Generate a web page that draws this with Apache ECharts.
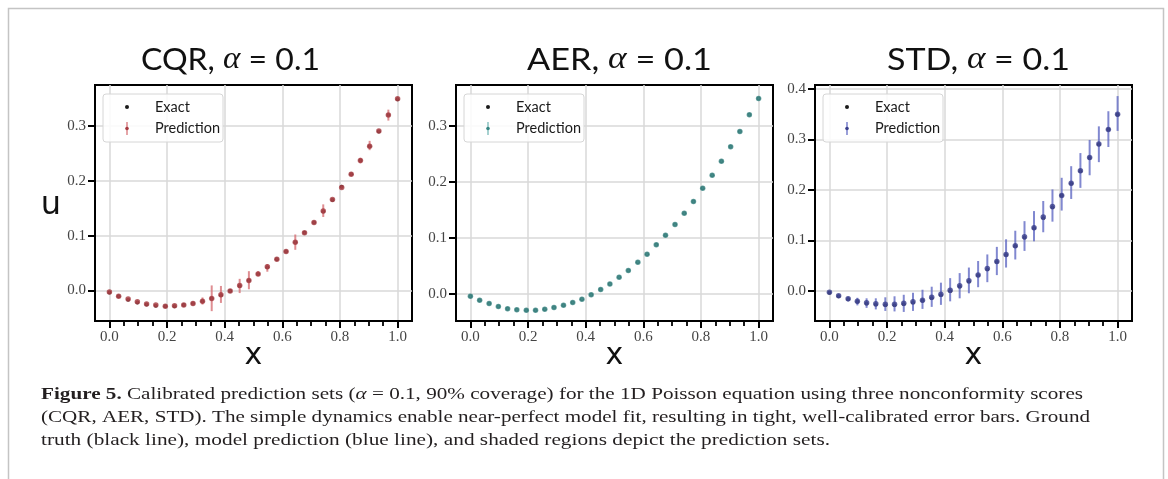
<!DOCTYPE html>
<html>
<head>
<meta charset="utf-8">
<script src="https://cdn.jsdelivr.net/npm/echarts@6/dist/echarts.min.js"></script>
<style>
  html, body { margin: 0; padding: 0; background: #ffffff; }
  #chart { width: 1168px; height: 479px; }
</style>
</head>
<body>
<div id="chart"></div>
<script>
// Collocation points on [0, 1]
const xs = [0.000, 0.032, 0.065, 0.097, 0.129, 0.161, 0.194, 0.226, 0.258, 0.290, 0.323, 0.355,
            0.387, 0.419, 0.452, 0.484, 0.516, 0.548, 0.581, 0.613, 0.645, 0.677, 0.710, 0.742,
            0.774, 0.806, 0.839, 0.871, 0.903, 0.935, 0.968, 1.000];

// Ground-truth solution u(x)
const exact = [-0.004, -0.011, -0.017, -0.022, -0.026, -0.028, -0.029, -0.029, -0.027, -0.024, -0.020, -0.015,
               -0.009, -0.001, 0.008, 0.018, 0.030, 0.042, 0.057, 0.071, 0.088, 0.105, 0.124, 0.144,
               0.165, 0.189, 0.212, 0.237, 0.263, 0.290, 0.320, 0.349];

// CQR prediction and interval bounds
const cqrPred = [-0.003, -0.011, -0.016, -0.021, -0.025, -0.027, -0.029, -0.028, -0.027, -0.024, -0.020, -0.015,
                 -0.008, -0.001, 0.009, 0.018, 0.030, 0.043, 0.057, 0.071, 0.088, 0.105, 0.124, 0.145,
                 0.166, 0.188, 0.212, 0.237, 0.263, 0.291, 0.320, 0.350];
const cqrLow = [-0.005, -0.013, -0.018, -0.023, -0.027, -0.029, -0.031, -0.030, -0.029, -0.027, -0.026, -0.038,
                -0.023, -0.003, -0.005, 0.002, 0.026, 0.034, 0.055, 0.069, 0.074, 0.103, 0.122, 0.134,
                0.164, 0.186, 0.209, 0.232, 0.256, 0.289, 0.310, 0.348];
const cqrHigh = [-0.001, -0.009, -0.014, -0.019, -0.023, -0.025, -0.027, -0.026, -0.025, -0.021, -0.013, 0.009,
                 0.008, 0.001, 0.021, 0.035, 0.035, 0.048, 0.059, 0.073, 0.102, 0.107, 0.126, 0.157,
                 0.168, 0.190, 0.215, 0.242, 0.273, 0.293, 0.330, 0.352];

// AER prediction and interval bounds
const aerPred = [-0.004, -0.011, -0.017, -0.022, -0.026, -0.028, -0.029, -0.029, -0.027, -0.024, -0.020, -0.015,
                 -0.009, -0.001, 0.008, 0.018, 0.030, 0.042, 0.057, 0.071, 0.088, 0.105, 0.124, 0.144,
                 0.165, 0.189, 0.212, 0.237, 0.263, 0.290, 0.320, 0.349];
const aerLow = [-0.006, -0.013, -0.019, -0.024, -0.028, -0.030, -0.031, -0.031, -0.029, -0.026, -0.022, -0.017,
                -0.011, -0.003, 0.006, 0.016, 0.028, 0.040, 0.055, 0.069, 0.086, 0.103, 0.122, 0.142,
                0.163, 0.187, 0.210, 0.235, 0.261, 0.288, 0.318, 0.347];
const aerHigh = [-0.002, -0.009, -0.015, -0.020, -0.024, -0.026, -0.027, -0.027, -0.025, -0.022, -0.018, -0.013,
                 -0.007, 0.001, 0.010, 0.020, 0.032, 0.044, 0.059, 0.073, 0.090, 0.107, 0.126, 0.146,
                 0.167, 0.191, 0.214, 0.239, 0.265, 0.292, 0.322, 0.351];

// STD prediction and interval bounds
const stdPred = [-0.003, -0.010, -0.016, -0.021, -0.024, -0.026, -0.027, -0.027, -0.025, -0.022, -0.019, -0.013,
                 -0.007, 0.001, 0.010, 0.020, 0.031, 0.044, 0.058, 0.072, 0.089, 0.107, 0.125, 0.146,
                 0.167, 0.189, 0.213, 0.238, 0.264, 0.291, 0.320, 0.350];
const stdLow = [-0.005, -0.013, -0.021, -0.029, -0.034, -0.037, -0.040, -0.041, -0.042, -0.040, -0.036, -0.032,
                -0.028, -0.021, -0.015, -0.005, 0.007, 0.017, 0.031, 0.046, 0.062, 0.079, 0.098, 0.116,
                0.137, 0.159, 0.182, 0.204, 0.229, 0.255, 0.285, 0.317];
const stdHigh = [-0.001, -0.007, -0.012, -0.014, -0.015, -0.015, -0.013, -0.011, -0.008, -0.004, 0.002, 0.008,
                 0.016, 0.025, 0.035, 0.046, 0.059, 0.072, 0.087, 0.102, 0.119, 0.138, 0.158, 0.178,
                 0.201, 0.224, 0.247, 0.273, 0.299, 0.326, 0.356, 0.386];

// Tick positions
const xMajorTicks = [0, 0.2, 0.4, 0.6, 0.8, 1.0];
const xMinorTicks = [0.05, 0.1, 0.15, 0.25, 0.3, 0.35, 0.45, 0.5, 0.55, 0.65, 0.7, 0.75, 0.85, 0.9, 0.95];
const yTicksLow = [0, 0.1, 0.2, 0.3];
const yTicksHigh = [0, 0.1, 0.2, 0.3, 0.4];

// Labels
const scoreNames = ['CQR', 'AER', 'STD'];
const alphaLabel = '0.1';
const legendLabels = ['Exact', 'Prediction'];
const captionLines = [
  '{b|Figure 5.} Calibrated prediction sets ({i|α} = 0.1, 90% coverage) for the 1D Poisson equation using three nonconformity scores',
  '(CQR, AER, STD). The simple dynamics enable near-perfect model fit, resulting in tight, well-calibrated error bars. Ground',
  'truth (black line), model prediction (blue line), and shaded regions depict the prediction sets.'
];

// Per-panel layout and styling
const panels = [
  { pred: cqrPred, low: cqrLow, high: cqrHigh, yMin: -0.056, yMax: 0.375, yTicks: yTicksLow,
    left: 95, dot: '#a63a40', bar: 'rgba(212,104,110,0.75)', titleX: 230.5, titleW: 179 },
  { pred: aerPred, low: aerLow, high: aerHigh, yMin: -0.048, yMax: 0.373, yTicks: yTicksLow,
    left: 456, dot: '#378683', bar: 'rgba(118,184,182,0.8)', titleX: 619.5, titleW: 185 },
  { pred: stdPred, low: stdLow, high: stdHigh, yMin: -0.060, yMax: 0.408, yTicks: yTicksHigh,
    left: 815, dot: '#393e8c', bar: 'rgba(98,106,196,0.8)', titleX: 978.5, titleW: 183 }
];
const GRID_TOP = 85, GRID_W = 317, GRID_H = 236;

const measureCtx = document.createElement('canvas').getContext('2d');
function textWidth(parts) {
  return parts.reduce((w, p) => { measureCtx.font = p[1]; return w + measureCtx.measureText(p[0]).width; }, 0);
}

const grids = [], xAxes = [], yAxes = [], series = [], graphics = [];

panels.forEach((p, i) => {
  grids.push({
    left: p.left, top: GRID_TOP, width: GRID_W, height: GRID_H,
    show: true, borderColor: '#000', borderWidth: 2, backgroundColor: 'transparent'
  });
  const tickLabel = { fontFamily: 'Liberation Serif', fontSize: 15, color: '#444', margin: 9,
                      formatter: v => v.toFixed(1) };
  // main x axis: major ticks, labels, grid lines
  xAxes.push({
    type: 'value', gridIndex: i, position: 'bottom', min: -0.05, max: 1.05,
    axisLine: { show: true, onZero: false, lineStyle: { color: '#000', width: 2 } },
    axisTick: { show: true, length: 7, lineStyle: { color: '#000', width: 2 }, customValues: xMajorTicks },
    axisLabel: Object.assign({ customValues: xMajorTicks }, tickLabel),
    splitLine: { show: true, lineStyle: { color: '#d8d8d8', width: 1.5 } }
  });
  // companion x axis on the same edge: minor ticks only
  xAxes.push({
    type: 'value', gridIndex: i, position: 'bottom', min: -0.05, max: 1.05,
    axisLine: { show: false, onZero: false },
    axisTick: { show: true, length: 5, lineStyle: { color: '#000', width: 1.8 }, customValues: xMinorTicks },
    axisLabel: { show: false },
    splitLine: { show: false }
  });
  yAxes.push({
    type: 'value', gridIndex: i, position: 'left', min: p.yMin, max: p.yMax,
    axisLine: { show: true, onZero: false, lineStyle: { color: '#000', width: 2 } },
    axisTick: { show: true, length: 7, lineStyle: { color: '#000', width: 2 }, customValues: p.yTicks },
    axisLabel: Object.assign({ customValues: p.yTicks }, tickLabel),
    splitLine: { show: true, lineStyle: { color: '#d8d8d8', width: 1.5 } }
  });

  const xi = i * 2;
  series.push({
    type: 'scatter', name: 'Exact', xAxisIndex: xi, yAxisIndex: i,
    data: xs.map((x, k) => [x, exact[k]]),
    symbolSize: 4, itemStyle: { color: '#1a1a1a' }, z: 2
  });
  series.push({
    type: 'custom', name: 'Prediction interval', xAxisIndex: xi, yAxisIndex: i,
    data: xs.map((x, k) => [x, p.low[k], p.high[k]]),
    encode: { x: 0, y: [1, 2] },
    renderItem: (params, api) => {
      const a = api.coord([api.value(0), api.value(1)]);
      const b = api.coord([api.value(0), api.value(2)]);
      return { type: 'line', shape: { x1: a[0], y1: a[1], x2: b[0], y2: b[1] },
               style: { stroke: p.bar, lineWidth: 2 } };
    },
    z: 3
  });
  series.push({
    type: 'scatter', name: 'Prediction', xAxisIndex: xi, yAxisIndex: i,
    data: xs.map((x, k) => [x, p.pred[k]]),
    symbolSize: 5.5, itemStyle: { color: p.dot }, z: 4
  });

  // panel title
  const tFont = 31;
  const tW = textWidth([[scoreNames[i] + ', ', tFont + 'px Lato'], ['α', 'italic ' + (tFont + 1) + 'px "Liberation Serif"'],
                        [' = ' + alphaLabel, tFont + 'px Lato']]);
  graphics.push({
    type: 'text', x: p.titleX, y: 60, scaleX: p.titleW / tW, z: 100,
    style: {
      text: '{s|' + scoreNames[i] + ', }{a|α}{s| = ' + alphaLabel + '}',
      align: 'center', verticalAlign: 'middle',
      rich: {
        s: { fontFamily: 'Lato', fontSize: tFont, fill: '#111' },
        a: { fontFamily: 'Liberation Serif', fontStyle: 'italic', fontSize: tFont + 1, fill: '#111' }
      }
    }
  });

  // x axis title
  graphics.push({
    type: 'text', x: p.left + GRID_W / 2, y: 356, z: 100,
    style: { text: 'x', fontFamily: 'DejaVu Sans', fontSize: 30, fill: '#111', align: 'center', verticalAlign: 'middle' }
  });

  // legend box
  const lx = p.left + 8, ly = GRID_TOP + 9;
  graphics.push({
    type: 'rect', z: 100, shape: { x: lx, y: ly, width: 120, height: 48, r: 3 },
    style: { fill: 'rgba(255,255,255,0.85)', stroke: '#d6d6d6', lineWidth: 1 }
  });
  graphics.push({
    type: 'circle', z: 101, shape: { cx: lx + 24, cy: ly + 13, r: 2 }, style: { fill: '#1a1a1a' }
  });
  graphics.push({
    type: 'line', z: 101, shape: { x1: lx + 24, y1: ly + 28, x2: lx + 24, y2: ly + 41 },
    style: { stroke: p.bar, lineWidth: 1.6 }
  });
  graphics.push({
    type: 'circle', z: 102, shape: { cx: lx + 24, cy: ly + 34.5, r: 1.8 }, style: { fill: p.dot }
  });
  legendLabels.forEach((lab, k) => {
    graphics.push({
      type: 'text', z: 101, x: lx + 52, y: ly + 13 + k * 21.5,
      style: { text: lab, fontFamily: 'Lato', fontSize: 14.5, fill: '#1a1a1a', align: 'left', verticalAlign: 'middle' }
    });
  });
});

// y axis title (upright)
graphics.push({
  type: 'text', x: 51, y: 206, z: 100,
  style: { text: 'u', fontFamily: 'DejaVu Sans', fontSize: 32, fill: '#111', align: 'center', verticalAlign: 'middle' }
});

// figure frame
graphics.push({
  type: 'rect', z: 0, shape: { x: 8.5, y: 8.5, width: 1155, height: 520 },
  style: { fill: 'none', stroke: '#c4c4c4', lineWidth: 1.5 }
});

// caption
const capSize = 17.5;
const capWidths = [1042, 1049, 789];
const capY = [394, 417, 440];
captionLines.forEach((line, k) => {
  const segs = [];
  line.split(/(\{[bi]\|[^}]*\})/).forEach(s => {
    if (!s) return;
    const m = s.match(/^\{([bi])\|(.*)\}$/);
    if (m) segs.push([m[2], (m[1] === 'b' ? 'bold ' : 'italic ') + capSize + 'px "Liberation Serif"']);
    else segs.push([s, capSize + 'px "Liberation Serif"']);
  });
  const w = textWidth(segs);
  graphics.push({
    type: 'text', x: 41, y: capY[k], scaleX: capWidths[k] / w, z: 100,
    style: {
      text: line, fontFamily: 'Liberation Serif', fontSize: capSize, fill: '#231f20',
      align: 'left', verticalAlign: 'middle',
      rich: {
        b: { fontFamily: 'Liberation Serif', fontWeight: 'bold', fontSize: capSize, fill: '#231f20' },
        i: { fontFamily: 'Liberation Serif', fontStyle: 'italic', fontSize: capSize, fill: '#231f20' }
      }
    }
  });
});

const chart = echarts.init(document.getElementById('chart'), null, { renderer: 'canvas' });
chart.setOption({
  animation: false,
  backgroundColor: '#ffffff',
  grid: grids,
  xAxis: xAxes,
  yAxis: yAxes,
  series: series,
  graphic: { elements: graphics }
});
</script>
</body>
</html>
